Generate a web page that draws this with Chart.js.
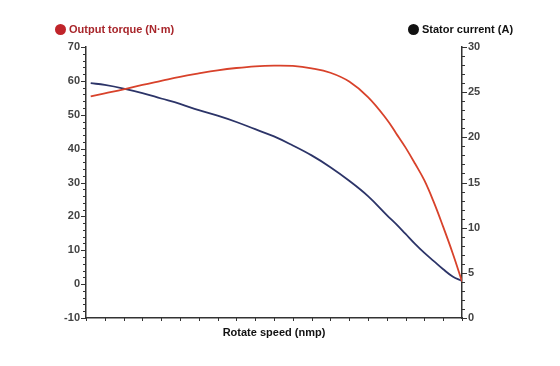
<!DOCTYPE html>
<html>
<head>
<meta charset="utf-8">
<script src="https://cdn.jsdelivr.net/npm/chart.js@4"></script>
<style>
  body { margin: 0; background: #fff; }
  #wrap { position: relative; width: 560px; height: 366px; }
  .leg { position: absolute; top: 22px; height: 14px; font: bold 11px "Liberation Sans", Arial, sans-serif; display: flex; align-items: center; white-space: nowrap; }
  .dot { width: 11px; height: 11px; border-radius: 50%; margin-right: 3px; }
</style>
</head>
<body>
<div id="wrap">
  <canvas id="motorChart" width="560" height="366"></canvas>
  <div class="leg" style="left:55px;color:#a8262b"><span class="dot" style="background:#c0242a"></span>Output torque (N·m)</div>
  <div class="leg" style="left:408px;color:#111"><span class="dot" style="background:#111"></span>Stator current (A)</div>
</div>
<script>
// values
const speed   = [0.25, 1, 2, 3, 4, 5, 6, 7, 8, 9, 10, 11, 12, 13, 14, 15, 16, 16.5, 17, 17.5, 18, 18.5, 19, 19.5, 20];
const torque  = [55.4, 56.3, 57.5, 58.8, 60.0, 61.2, 62.2, 63.1, 63.8, 64.3, 64.5, 64.4, 63.7, 62.4, 59.8, 55.2, 48.6, 44.5, 40.3, 35.6, 30.6, 24.2, 16.9, 9.2, 0.8];
const current = [26.0, 25.8, 25.4, 24.9, 24.3, 23.7, 23.0, 22.4, 21.7, 20.9, 20.1, 19.1, 18.0, 16.7, 15.2, 13.5, 11.4, 10.4, 9.3, 8.2, 7.2, 6.3, 5.4, 4.6, 4.1];

const axisColor = "#333";
const tickFont = { family: "'Liberation Sans Narrow', 'Liberation Sans', Arial", size: 11, weight: "bold" };

// small tick marks, longer at labelled values
const tickMarks = {
    id: "tickMarks",
    afterDraw(chart) {
        const ctx = chart.ctx;
        const area = chart.chartArea;
        const sx = chart.scales.x, sy = chart.scales.y, sy1 = chart.scales.y1;
        ctx.save();
        ctx.strokeStyle = axisColor;
        ctx.lineWidth = 1;
        ctx.beginPath();
        sy.ticks.forEach(t => {
            const p = Math.round(sy.getPixelForValue(t.value)) + 0.5;
            const len = t.value % 10 === 0 ? 5 : 3;
            ctx.moveTo(area.left - len, p);
            ctx.lineTo(area.left, p);
        });
        sy1.ticks.forEach(t => {
            const p = Math.round(sy1.getPixelForValue(t.value)) + 0.5;
            const len = t.value % 5 === 0 ? 5 : 3;
            ctx.moveTo(area.right, p);
            ctx.lineTo(area.right + len, p);
        });
        sx.ticks.forEach(t => {
            const p = Math.round(sx.getPixelForValue(t.value)) + 0.5;
            ctx.moveTo(p, area.bottom);
            ctx.lineTo(p, area.bottom + 3);
        });
        ctx.stroke();
        ctx.restore();
    }
};

new Chart(
    document.getElementById("motorChart"),
    {
        type: "line",
        data: {
            datasets: [{
                label: "Output torque (N·m)",
                data: speed.map((s, i) => ({ x: s, y: torque[i] })),
                borderColor: "#d8422b",
                borderWidth: 1.8,
                pointRadius: 0,
                tension: 0.4,
                yAxisID: "y"
            }, {
                label: "Stator current (A)",
                data: speed.map((s, i) => ({ x: s, y: current[i] })),
                borderColor: "#2c3468",
                borderWidth: 1.8,
                pointRadius: 0,
                tension: 0.4,
                yAxisID: "y1"
            }]
        },
        options: {
            responsive: false,
            animation: false,
            layout: { padding: { top: 47, left: 0, right: 0, bottom: 0 } },
            plugins: { legend: { display: false }, tooltip: { enabled: false } },
            scales: {
                x: {
                    type: "linear",
                    min: 0, max: 20,
                    ticks: { stepSize: 1, autoSkip: false, callback: () => "" },
                    grid: { display: false, drawTicks: false },
                    border: { color: axisColor, width: 1.5 },
                    title: {
                        display: true,
                        text: "Rotate speed (nmp)",
                        color: "#111",
                        font: { family: "'Liberation Sans', Arial", size: 11, weight: "bold" },
                        padding: { top: 0, bottom: 26 }
                    },
                    afterFit(s) { s.height = 48; }
                },
                y: {
                    position: "left",
                    min: -10, max: 70,
                    ticks: {
                        stepSize: 2, autoSkip: false, padding: 6,
                        color: "#444", font: tickFont,
                        callback: v => v % 10 === 0 ? v : ""
                    },
                    grid: { display: false, drawTicks: false },
                    border: { color: axisColor, width: 1.5 },
                    afterFit(s) { s.width = 86; }
                },
                y1: {
                    position: "right",
                    min: 0, max: 30,
                    ticks: {
                        stepSize: 1, autoSkip: false, padding: 6,
                        color: "#444", font: tickFont,
                        callback: v => v % 5 === 0 ? v : ""
                    },
                    grid: { display: false, drawTicks: false },
                    border: { color: axisColor, width: 1.5 },
                    afterFit(s) { s.width = 98; }
                }
            }
        },
        plugins: [tickMarks]
    }
);
</script>
</body>
</html>
